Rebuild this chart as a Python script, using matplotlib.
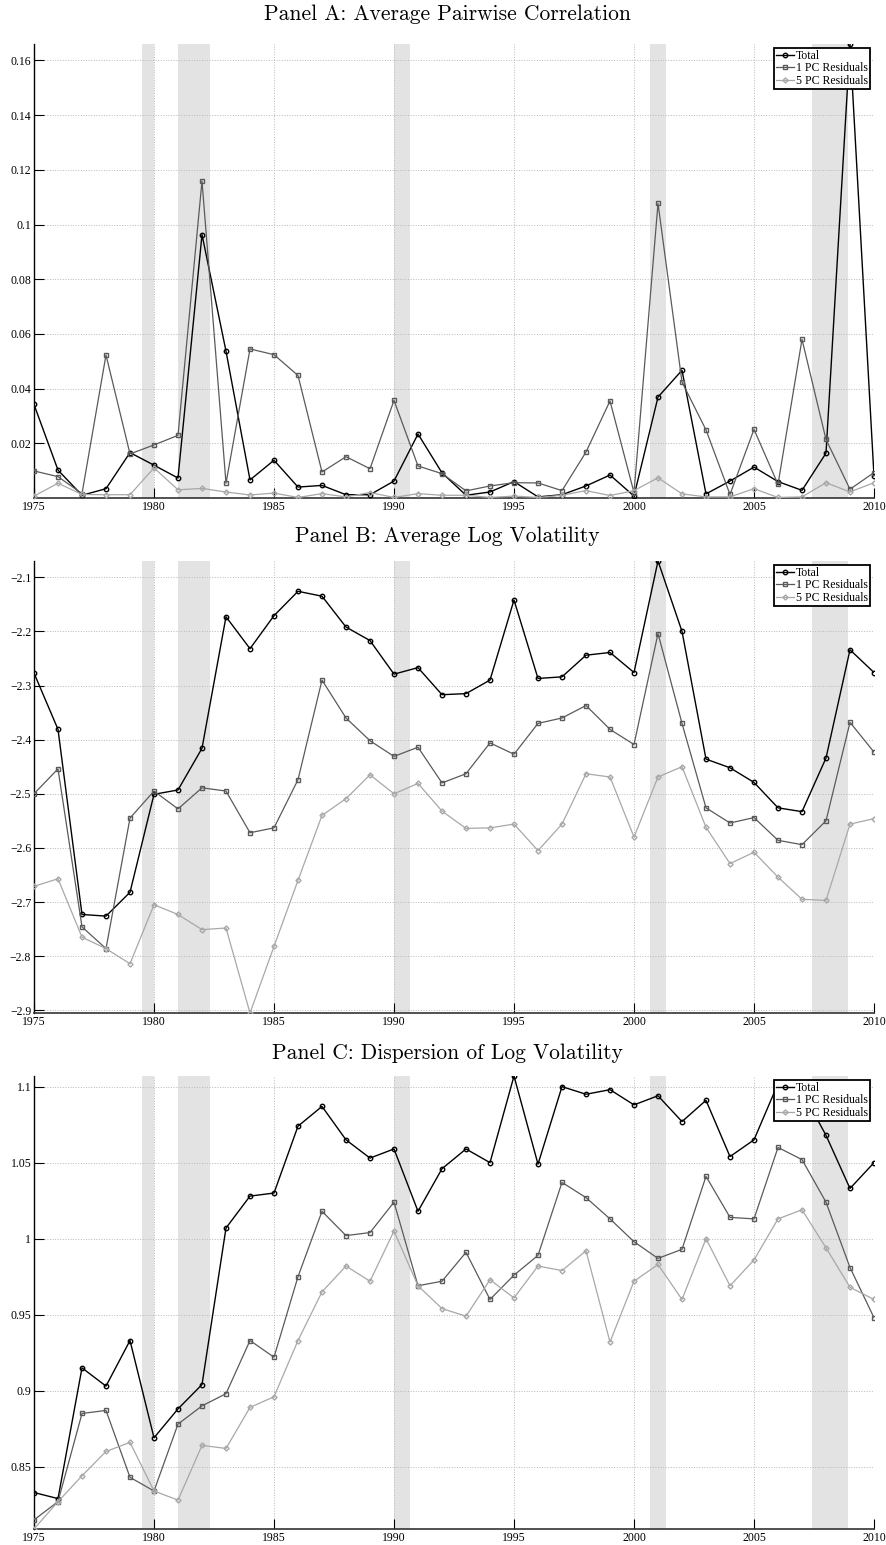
import numpy as np
import matplotlib
matplotlib.use('Agg')
import matplotlib.pyplot as plt

# Datos
years = np.arange(1975, 2011)

corr_total = [0.0342, 0.0102, 0.0010, 0.0034, 0.0166, 0.0120, 0.0073, 0.0963, 0.0537, 0.0066,
              0.0138, 0.0040, 0.0046, 0.0012, 0.0012, 0.0062, 0.0234, 0.0092, 0.0010, 0.0022,
              0.0060, 0.0004, 0.0012, 0.0044, 0.0084, 0.0007, 0.0369, 0.0467, 0.0015, 0.0062,
              0.0113, 0.0060, 0.0028, 0.0164, 0.1660, 0.0080]
corr_pc1 = [0.0099, 0.0078, 0.0016, 0.0523, 0.0161, 0.0194, 0.0229, 0.1159, 0.0054, 0.0545,
            0.0524, 0.0448, 0.0095, 0.0151, 0.0107, 0.0357, 0.0117, 0.0089, 0.0026, 0.0044,
            0.0056, 0.0055, 0.0027, 0.0168, 0.0355, 0.0020, 0.1077, 0.0424, 0.0249, 0.0013,
            0.0251, 0.0050, 0.0580, 0.0214, 0.0032, 0.0093]
corr_pc5 = [0.0007, 0.0054, 0.0013, 0.0012, 0.0012, 0.0110, 0.0030, 0.0035, 0.0022, 0.0011,
            0.0018, 0.0002, 0.0016, 0.0004, 0.0020, 0.0002, 0.0016, 0.0010, 0.0010, 0.0002,
            0.0007, 0.0002, 0.0010, 0.0027, 0.0009, 0.0027, 0.0074, 0.0015, 0.0004, 0.0004,
            0.0034, 0.0002, 0.0004, 0.0056, 0.0022, 0.0056]

vol_total = [-2.277, -2.381, -2.723, -2.726, -2.682, -2.501, -2.493, -2.416, -2.173, -2.232,
             -2.171, -2.126, -2.135, -2.192, -2.217, -2.279, -2.267, -2.317, -2.315, -2.290,
             -2.142, -2.287, -2.284, -2.244, -2.239, -2.276, -2.070, -2.200, -2.436, -2.452,
             -2.479, -2.526, -2.533, -2.434, -2.234, -2.276]
vol_pc1 = [-2.500, -2.454, -2.746, -2.786, -2.545, -2.495, -2.528, -2.489, -2.495, -2.572,
           -2.563, -2.474, -2.290, -2.360, -2.402, -2.431, -2.414, -2.480, -2.463, -2.406,
           -2.427, -2.370, -2.360, -2.337, -2.381, -2.409, -2.204, -2.370, -2.526, -2.554,
           -2.544, -2.586, -2.594, -2.550, -2.368, -2.423]
vol_pc5 = [-2.671, -2.657, -2.765, -2.786, -2.814, -2.705, -2.723, -2.751, -2.748, -2.905,
           -2.782, -2.660, -2.540, -2.509, -2.465, -2.500, -2.481, -2.532, -2.564, -2.563,
           -2.556, -2.605, -2.556, -2.463, -2.469, -2.580, -2.469, -2.450, -2.562, -2.629,
           -2.608, -2.654, -2.695, -2.697, -2.556, -2.546]

disp_total = [0.833, 0.829, 0.915, 0.903, 0.933, 0.869, 0.888, 0.904, 1.007, 1.028,
              1.030, 1.074, 1.087, 1.065, 1.053, 1.059, 1.018, 1.046, 1.059, 1.050,
              1.107, 1.049, 1.100, 1.095, 1.098, 1.088, 1.094, 1.077, 1.091, 1.054,
              1.065, 1.102, 1.097, 1.068, 1.033, 1.050]
disp_pc1 = [0.815, 0.827, 0.885, 0.887, 0.843, 0.834, 0.878, 0.890, 0.898, 0.933,
            0.922, 0.975, 1.018, 1.002, 1.004, 1.024, 0.969, 0.972, 0.991, 0.960,
            0.976, 0.989, 1.037, 1.027, 1.013, 0.998, 0.987, 0.993, 1.041, 1.014,
            1.013, 1.060, 1.052, 1.024, 0.981, 0.948]
disp_pc5 = [0.809, 0.827, 0.844, 0.860, 0.866, 0.834, 0.828, 0.864, 0.862, 0.889,
            0.896, 0.933, 0.965, 0.982, 0.972, 1.005, 0.969, 0.954, 0.949, 0.973,
            0.961, 0.982, 0.979, 0.992, 0.932, 0.972, 0.983, 0.960, 1.000, 0.969,
            0.986, 1.013, 1.019, 0.994, 0.968, 0.960]

# recesiones (sombreado)
recessions = [(1979.5, 1980.0), (1981.0, 1982.33), (1990.0, 1990.67),
              (2000.67, 2001.33), (2007.42, 2008.92)]

panel_titles = ['Panel A: Average Pairwise Correlation',
                'Panel B: Average Log Volatility',
                'Panel C: Dispersion of Log Volatility']
series_labels = ['Total', '1 PC Residuals', '5 PC Residuals']

panels = [
    (corr_total, corr_pc1, corr_pc5),
    (vol_total, vol_pc1, vol_pc5),
    (disp_total, disp_pc1, disp_pc5),
]
yticks_list = [
    [0.02, 0.04, 0.06, 0.08, 0.1, 0.12, 0.14, 0.16],
    [-2.9, -2.8, -2.7, -2.6, -2.5, -2.4, -2.3, -2.2, -2.1],
    [0.85, 0.9, 0.95, 1.0, 1.05, 1.1],
]

W, H = 886, 1545
fig = plt.figure(figsize=(W / 100, H / 100), dpi=100)

# (top, bottom) en pixeles
boxes = [(44, 498), (561, 1013), (1076, 1529)]
title_y = [14, 536, 1053]
left_px, right_px = 34, 874

styles = [
    dict(color='black', marker='o', markersize=3.2, markerfacecolor='none', lw=1.0),
    dict(color='#5a5a5a', marker='s', markersize=2.8, markerfacecolor='none', lw=0.9),
    dict(color='#a8a8a8', marker='D', markersize=2.6, markerfacecolor='none', lw=0.9),
]

for i, (series, yt) in enumerate(zip(panels, yticks_list)):
    top, bot = boxes[i]
    ax = fig.add_axes([left_px / W, 1 - bot / H, (right_px - left_px) / W, (bot - top) / H])
    for a, b in recessions:
        ax.axvspan(a, b, color='#e3e3e3', lw=0, zorder=0)
    for s, st, lab in zip(series, styles, series_labels):
        ax.plot(years, s, label=lab, zorder=3, **st)
    allv = np.concatenate([np.array(s) for s in series])
    lo = 0 if i == 0 else allv.min()
    ax.set_ylim(lo, allv.max())
    ax.set_xlim(1975, 2010)
    ax.set_xticks(np.arange(1975, 2011, 5))
    ax.set_yticks(yt)
    if i == 1:
        ax.set_yticklabels(['\u2212%g' % abs(v) for v in yt])
    else:
        ax.set_yticklabels(['%g' % v for v in yt])
    for lab in ax.get_xticklabels() + ax.get_yticklabels():
        lab.set_fontfamily('Liberation Serif')
        lab.set_fontsize(8.5)
    ax.tick_params(direction='in', length=7, width=0.8, pad=2)
    ax.grid(True, linestyle=':', color='#b8b8b8', lw=0.7)
    ax.set_axisbelow(True)
    ax.spines['top'].set_visible(False)
    ax.spines['right'].set_visible(False)
    ax.spines['left'].set_linewidth(1.0)
    ax.spines['bottom'].set_linewidth(1.2)
    ax.spines['bottom'].set_color('#333333')
    leg = ax.legend(loc='upper right', prop=dict(family='Liberation Serif', size=8.5),
                    frameon=True, fancybox=False, framealpha=1, edgecolor='black',
                    borderpad=0.2, handlelength=1.5, handletextpad=0.2, labelspacing=0.05,
                    borderaxespad=0.3)
    leg.get_frame().set_linewidth(1.3)
    leg.set_zorder(10)
    fig.text(447 / W, 1 - title_y[i] / H, panel_titles[i], ha='center', va='center',
             fontfamily='cmr10', fontsize=15.5)

fig.savefig('out.png', dpi=100)
